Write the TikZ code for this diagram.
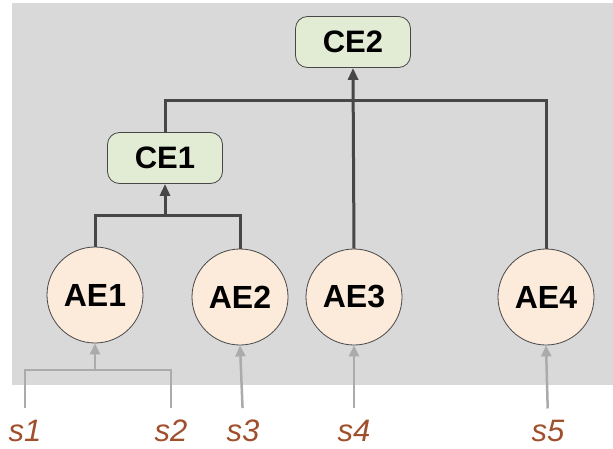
\documentclass[tikz,border=0pt]{standalone}
\usepackage{fontspec}
\setmainfont{Liberation Sans}
\usepackage{tikz}
\usetikzlibrary{arrows.meta}
\definecolor{bggray}{HTML}{D9D9D9}
\definecolor{cefill}{HTML}{E2EBD4}
\definecolor{aefill}{HTML}{FCEADB}
\definecolor{linegray}{HTML}{474747}
\definecolor{ingray}{HTML}{ABABAB}
\definecolor{sred}{HTML}{A04F2C}
\tikzset{
  every picture/.style={x=1pt, y=-1pt},
  cebox/.style={draw=linegray, line width=0.8pt, fill=cefill, rounded corners=12pt,
    minimum width=115pt, minimum height=51pt, inner sep=0pt,
    font=\fontsize{31}{36}\selectfont\bfseries},
  aenode/.style={circle, draw=linegray, line width=0.8pt, fill=aefill,
    minimum size=96pt, inner sep=0pt, font=\fontsize{32}{36}\selectfont\bfseries},
  slabel/.style={anchor=base, inner sep=0pt, text=sred,
    font=\fontsize{31}{34}\selectfont\itshape},
  link/.style={draw=linegray, line width=3pt},
  linkarrow/.style={link, -{Triangle[length=12pt, width=10pt]}},
  feed/.style={draw=ingray, line width=2.5pt, shorten <=11pt},
  feedarrow/.style={draw=ingray, line width=2.5pt, -{Triangle[length=11pt, width=10pt]}}
}

\begin{document}
\begin{tikzpicture}
    % background panel
    \useasboundingbox (0,0) rectangle (613,448);
    \fill[bggray] (12,3) rectangle (613,385);

    % combining nodes
    \node[cebox] (ce2) at (353,42) {CE2};
    \node[cebox] (ce1) at (165,158) {CE1};

    % encoders
    \node[aenode] (ae1) at (95,295) {AE1};
    \node[aenode] (ae2) at (240,297) {AE2};
    \node[aenode] (ae3) at (354,297) {AE3};
    \node[aenode] (ae4) at (546,297) {AE4};

    % inputs
    \node[slabel] (s1) at (25,441) {s1};
    \node[slabel] (s2) at (171,441) {s2};
    \node[slabel] (s3) at (243,441) {s3};
    \node[slabel] (s4) at (354,441) {s4};
    \node[slabel] (s5) at (548,441) {s5};

    \coordinate (j1) at (165,215);
    \coordinate (j2) at (354,100);
    \coordinate (j0) at (95,370);

    % upper tree
    \draw[link] (ae1.north) |- (j1);
    \draw[link] (ae2.north) |- (j1);
    \draw[linkarrow] (j1) -- (ce1.south);
    \draw[link] (ce1.north) |- (j2);
    \draw[link] (ae4.north) |- (j2);
    \draw[linkarrow] (ae3.north) -- (ce2.south);

    % input arrows
    \draw[feed] (s1.north) |- (j0);
    \draw[feed] (s2.north) |- (j0);
    \draw[feedarrow] (j0) -- (ae1.south);
    \draw[feedarrow, shorten <=11pt] (s3.north) -- (ae2.south);
    \draw[feedarrow, shorten <=11pt] (s4.north) -- (ae3.south);
    \draw[feedarrow, shorten <=11pt] (s5.north) -- (ae4.south);
\end{tikzpicture}
\end{document}
